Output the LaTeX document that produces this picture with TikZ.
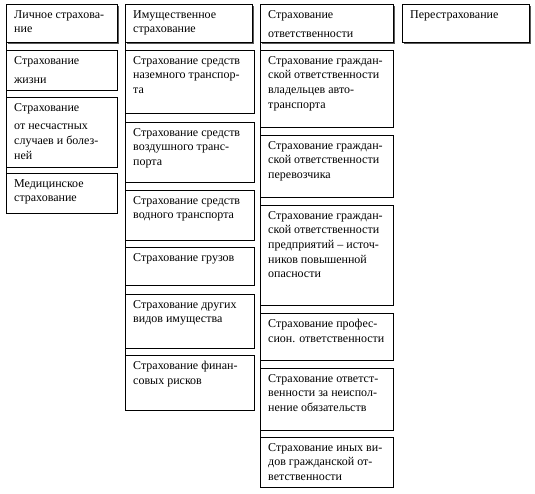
\documentclass[tikz,border=0pt]{standalone}
\usepackage{fontspec}
\setmainfont{Liberation Serif}
\usetikzlibrary{shadows}
\tikzset{
  boxst/.style={draw, line width=0.8pt, anchor=north west, inner sep=0pt, fill=white},
  hdrst/.style={boxst, drop shadow={shadow xshift=2pt, shadow yshift=-2pt, fill=black!65, opacity=1}},
  txtst/.style={anchor=north west, inner sep=0pt, align=left, font=\fontsize{12}{14.7}\selectfont},
  vline/.style={line width=0.8pt}
}
\newcommand{\mybox}[7]{%
  \node[#1, minimum width=#5pt, minimum height=#6pt] (#2) at (#3,#4) {};
  \node[txtst] (#2t) at ([xshift=8pt,yshift=-6pt]#2.north west) {#7};
}
\begin{document}
\begin{tikzpicture}[x=1pt,y=-1pt]
\useasboundingbox (0,0) rectangle (535,494);
% column 1
\mybox{hdrst}{c1h}{6}{4}{111}{38}{Личное страхова-\\ние}
\mybox{boxst}{c1a}{6}{50}{111}{40}{Страхование\\[5pt]жизни}
\mybox{boxst}{c1b}{6}{97}{111}{70}{Страхование\\[4pt]от несчастных\\случаев и болез-\\ней}
\mybox{boxst}{c1c}{6}{173}{111}{40}{Медицинское\\страхование}
% column 2
\mybox{hdrst}{c2h}{125}{4}{127}{38}{Имущественное\\страхование}
\mybox{boxst}{c2a}{125}{50}{129}{63}{Страхование средств\\наземного транспор-\\та}
\mybox{boxst}{c2b}{125}{122}{129}{60}{Страхование средств\\воздушного транс-\\порта}
\mybox{boxst}{c2c}{125}{190}{129}{50}{Страхование средств\\водного транспорта}
\mybox{boxst}{c2d}{125}{247}{129}{38}{Страхование грузов}
\mybox{boxst}{c2e}{125}{294}{129}{54}{Страхование других\\видов имущества}
\mybox{boxst}{c2f}{125}{355}{129}{55}{Страхование финан-\\совых рисков}
% column 3
\mybox{hdrst}{c3h}{260}{4}{133}{38}{Страхование\\[5pt]ответственности}
\mybox{boxst}{c3a}{260}{50}{133}{77}{Страхование граждан-\\ской ответственности\\владельцев авто-\\транспорта}
\mybox{boxst}{c3b}{260}{135}{133}{62}{Страхование граждан-\\ской ответственности\\перевозчика}
\mybox{boxst}{c3c}{260}{205}{133}{100}{Страхование граждан-\\ской ответственности\\предприятий – источ-\\ников повышенной\\опасности}
\mybox{boxst}{c3d}{260}{313}{133}{47}{Страхование профес-\\сион. ответственности}
\mybox{boxst}{c3e}{260}{368}{133}{62}{Страхование ответст-\\венности за неиспол-\\нение обязательств}
\mybox{boxst}{c3f}{260}{437}{133}{50}{Страхование иных ви-\\дов гражданской от-\\ветственности}
% column 4
\mybox{hdrst}{c4h}{402}{4}{127}{38}{Перестрахование}
% vertical connectors
\draw[vline] (c1h.south west) -- (c1c.south west);
\draw[vline] (c2h.south west) -- (c2f.south west);
\draw[vline] (c3h.south west) -- (c3f.south west);
\end{tikzpicture}
\end{document}
